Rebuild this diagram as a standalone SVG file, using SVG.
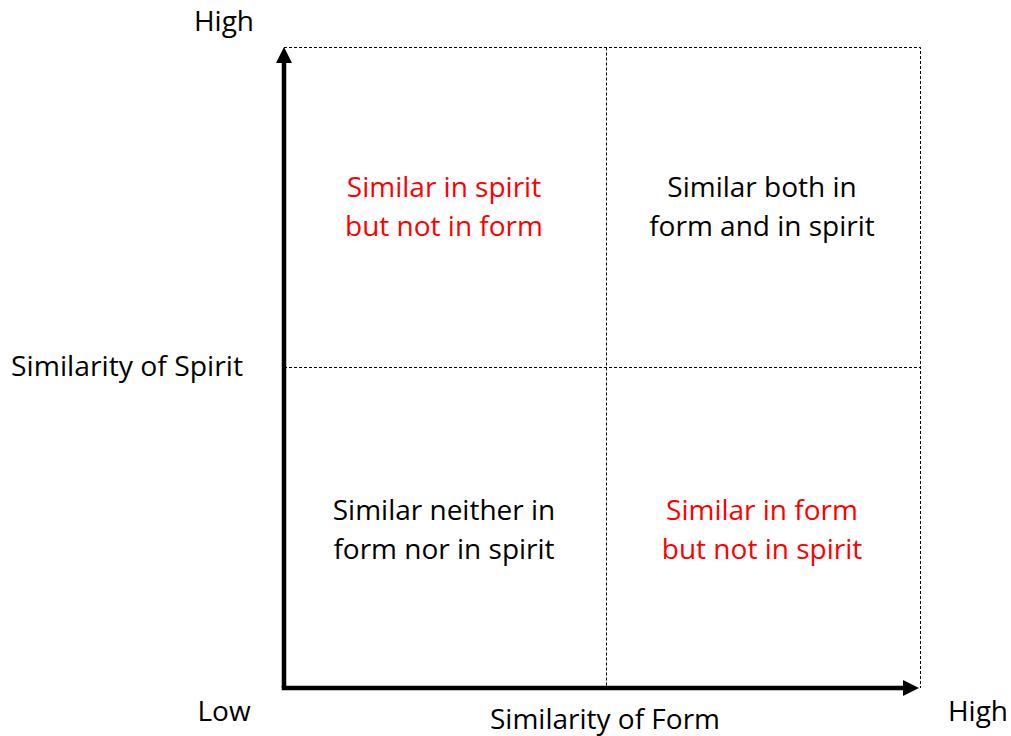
<svg xmlns="http://www.w3.org/2000/svg" width="1011" height="736" viewBox="0 0 1011 736">
<style>
text{font-family:"Open Sans","Liberation Sans",sans-serif;font-size:28px;fill:#000}
.c{text-anchor:middle}
.red{fill:#ff0000}
.dot{stroke:#000;stroke-width:1;stroke-dasharray:3,2;fill:none}
.ax{stroke:#000;stroke-width:4.5;fill:none}
</style>
<defs>
<marker id="ah" markerWidth="16" markerHeight="16" refX="6" refY="8" orient="auto" markerUnits="userSpaceOnUse" viewBox="0 0 16 16">
<path d="M0,0 L16,8 L0,16 z" fill="#000"/>
</marker>
</defs>
<rect width="1011" height="736" fill="#fff"/>
<g id="connectors">
<path class="dot" d="M284,47.5 H920.5 V688"/>
<path class="dot" d="M606.5,47.5 V688"/>
<path class="dot" d="M284,367.5 H920.5"/>
<path class="ax" d="M284,688 V57" marker-end="url(#ah)"/>
<path class="ax" d="M281.75,688 H909" marker-end="url(#ah)"/>
</g>
<g id="labels">
<text class="c" x="224" y="31">High</text>
<text class="c" x="127" y="376" textLength="232" lengthAdjust="spacingAndGlyphs">Similarity of Spirit</text>
<text class="c" x="224" y="721">Low</text>
<text class="c" x="605" y="729">Similarity of Form</text>
<text class="c" x="978" y="721">High</text>
</g>
<g id="q-tl"><text class="c red" x="444" y="197">Similar in spirit</text><text class="c red" x="444" y="236">but not in form</text></g>
<g id="q-tr"><text class="c" x="762" y="197">Similar both in</text><text class="c" x="762" y="236">form and in spirit</text></g>
<g id="q-bl"><text class="c" x="444" y="520">Similar neither in</text><text class="c" x="444" y="559">form nor in spirit</text></g>
<g id="q-br"><text class="c red" x="762" y="520">Similar in form</text><text class="c red" x="762" y="559">but not in spirit</text></g>
</svg>
